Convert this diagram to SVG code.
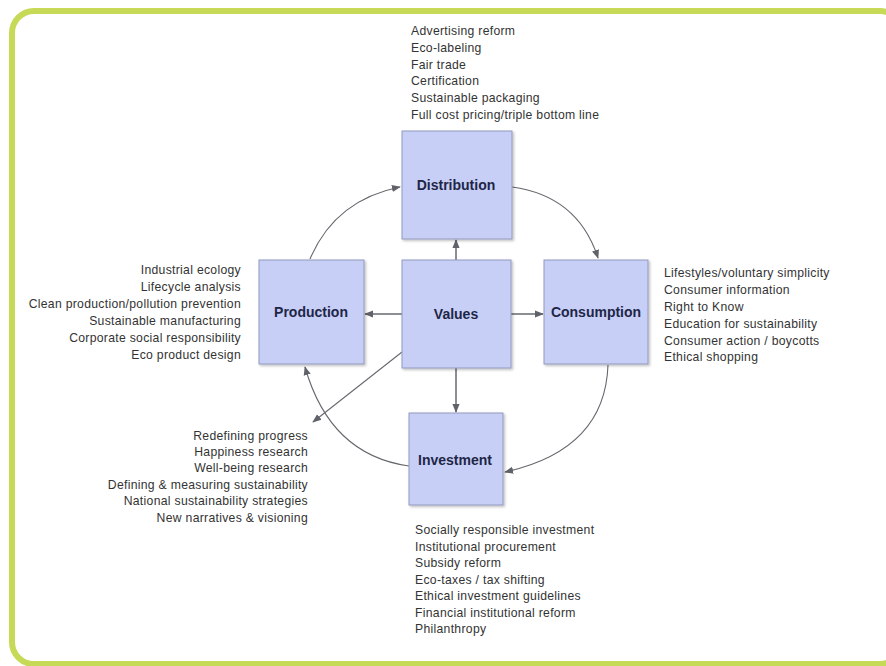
<svg xmlns="http://www.w3.org/2000/svg" width="886" height="666" viewBox="0 0 886 666">
<defs>
<marker id="ah" viewBox="0 0 10 10" refX="9" refY="5" markerWidth="9" markerHeight="9" markerUnits="userSpaceOnUse" orient="auto">
<path d="M0,1 L10,5 L0,9 z" fill="#5f6268"/>
</marker>
<filter id="sh" x="-10%" y="-10%" width="130%" height="130%">
<feDropShadow dx="1.5" dy="1.5" stdDeviation="1.2" flood-color="#000" flood-opacity="0.25"/>
</filter>
</defs>
<style>
.box{fill:#c8cff7;stroke:#9299bd;stroke-width:1;filter:url(#sh)}
.lbl{font-family:"Liberation Sans",Arial,sans-serif;font-size:14px;font-weight:bold;fill:#1e2647;text-anchor:middle}
.lst{font-family:"Liberation Sans",Arial,sans-serif;font-size:12.2px;letter-spacing:0.3px;fill:#333}
.r{text-anchor:end}
.con{fill:none;stroke:#65686e;stroke-width:1.1;marker-end:url(#ah)}
.st{stroke-width:1.5}
</style>
<rect x="12" y="11" width="890" height="653" rx="22" fill="#fff" stroke="#c6da58" stroke-width="6"/>
<g id="connectors">
<path class="con st" d="M456,260 L456,240"/>
<path class="con st" d="M402,314 L365,314"/>
<path class="con st" d="M511,314 L543,314"/>
<path class="con st" d="M456,368 L456,412"/>
<path class="con" d="M402,352 L313,422"/>
<path class="con" d="M310,259 Q335,200 400,187"/>
<path class="con" d="M512,187 Q578,196 598,258"/>
<path class="con" d="M608,365 Q605,450 505,472"/>
<path class="con" d="M409,466 Q330,455 305,367"/>
</g>
<g id="distribution">
<rect class="box" x="402" y="131" width="110" height="108"/>
<text class="lbl" x="456" y="190">Distribution</text>
</g>
<g id="production">
<rect class="box" x="259" y="260" width="105" height="104"/>
<text class="lbl" x="311" y="317">Production</text>
</g>
<g id="values">
<rect class="box" x="402" y="260" width="109" height="108"/>
<text class="lbl" x="456" y="319">Values</text>
</g>
<g id="consumption">
<rect class="box" x="544" y="260" width="104" height="104"/>
<text class="lbl" x="596" y="317">Consumption</text>
</g>
<g id="investment">
<rect class="box" x="409" y="413" width="94" height="92"/>
<text class="lbl" x="455" y="465">Investment</text>
</g>
<g id="distribution-list">
<text class="lst" x="411" y="35">Advertising reform</text>
<text class="lst" x="411" y="52">Eco-labeling</text>
<text class="lst" x="411" y="69">Fair trade</text>
<text class="lst" x="411" y="85">Certification</text>
<text class="lst" x="411" y="102">Sustainable packaging</text>
<text class="lst" x="411" y="119">Full cost pricing/triple bottom line</text>
</g>
<g id="production-list">
<text class="lst r" x="241" y="274">Industrial ecology</text>
<text class="lst r" x="241" y="291">Lifecycle analysis</text>
<text class="lst r" x="241" y="308">Clean production/pollution prevention</text>
<text class="lst r" x="241" y="325">Sustainable manufacturing</text>
<text class="lst r" x="241" y="342">Corporate social responsibility</text>
<text class="lst r" x="241" y="359">Eco product design</text>
</g>
<g id="consumption-list">
<text class="lst" x="664" y="277">Lifestyles/voluntary simplicity</text>
<text class="lst" x="664" y="294">Consumer information</text>
<text class="lst" x="664" y="311">Right to Know</text>
<text class="lst" x="664" y="328">Education for sustainability</text>
<text class="lst" x="664" y="345">Consumer action / boycotts</text>
<text class="lst" x="664" y="361">Ethical shopping</text>
</g>
<g id="values-list">
<text class="lst r" x="308" y="440">Redefining progress</text>
<text class="lst r" x="308" y="456">Happiness research</text>
<text class="lst r" x="308" y="472">Well-being research</text>
<text class="lst r" x="308" y="489">Defining &amp; measuring sustainability</text>
<text class="lst r" x="308" y="505">National sustainability strategies</text>
<text class="lst r" x="308" y="522">New narratives &amp; visioning</text>
</g>
<g id="investment-list">
<text class="lst" x="415" y="534">Socially responsible investment</text>
<text class="lst" x="415" y="551">Institutional procurement</text>
<text class="lst" x="415" y="567">Subsidy reform</text>
<text class="lst" x="415" y="584">Eco-taxes / tax shifting</text>
<text class="lst" x="415" y="600">Ethical investment guidelines</text>
<text class="lst" x="415" y="617">Financial institutional reform</text>
<text class="lst" x="415" y="633">Philanthropy</text>
</g>
</svg>
